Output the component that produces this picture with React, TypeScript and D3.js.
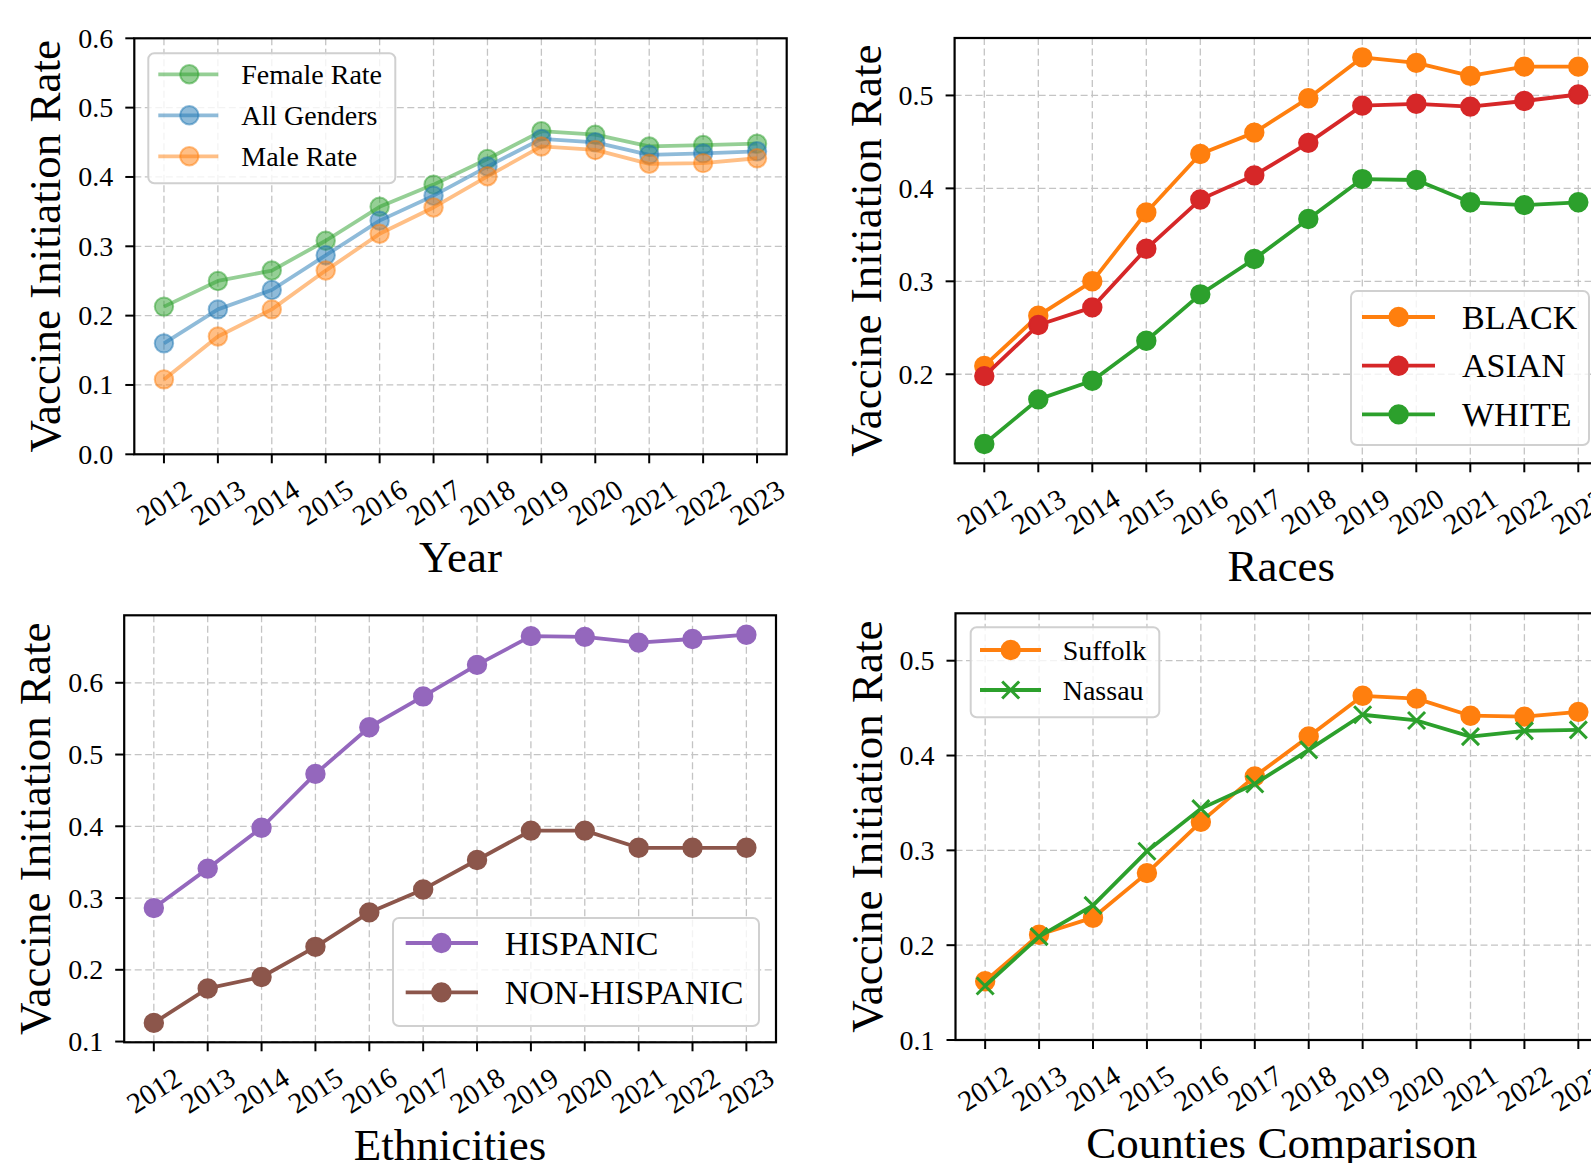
import React from "react";
import * as d3 from "d3";

// ---- data ----
const years = [2012, 2013, 2014, 2015, 2016, 2017, 2018, 2019, 2020, 2021, 2022, 2023];

// gender panel
const femaleRate = [0.213, 0.250, 0.265, 0.308, 0.357, 0.389, 0.426, 0.466, 0.461, 0.444, 0.446, 0.448];
const allGenders = [0.160, 0.209, 0.237, 0.287, 0.337, 0.373, 0.415, 0.455, 0.450, 0.432, 0.434, 0.437];
const maleRate = [0.108, 0.170, 0.209, 0.265, 0.318, 0.356, 0.401, 0.444, 0.439, 0.419, 0.420, 0.427];

// races panel
const blackRate = [0.209, 0.263, 0.300, 0.374, 0.437, 0.460, 0.497, 0.541, 0.535, 0.521, 0.531, 0.531];
const asianRate = [0.198, 0.253, 0.272, 0.335, 0.388, 0.414, 0.449, 0.489, 0.491, 0.488, 0.494, 0.501];
const whiteRate = [0.125, 0.173, 0.193, 0.236, 0.286, 0.324, 0.367, 0.410, 0.409, 0.385, 0.382, 0.385];

// ethnicities panel
const hispanicRate = [0.286, 0.341, 0.398, 0.473, 0.538, 0.581, 0.625, 0.665, 0.664, 0.656, 0.661, 0.667];
const nonHispanicRate = [0.126, 0.174, 0.190, 0.232, 0.280, 0.312, 0.353, 0.394, 0.394, 0.370, 0.370, 0.370];

// counties panel
const suffolkRate = [0.162, 0.211, 0.229, 0.276, 0.330, 0.378, 0.420, 0.463, 0.460, 0.442, 0.441, 0.446];
const nassauRate = [0.157, 0.209, 0.242, 0.299, 0.344, 0.370, 0.406, 0.443, 0.437, 0.420, 0.426, 0.427];

const yTicks = [0.0, 0.1, 0.2, 0.3, 0.4, 0.5, 0.6];

const FONT = "'Liberation Serif', 'Times New Roman', 'DejaVu Serif', serif";

type Series = { name: string; values: number[]; color: string; marker: "o" | "x"; alpha: number };
type Box = { left: number; right: number; top: number; bottom: number };
type LegendSpec = {
  anchor: "ul" | "lr";
  dx: number; dy: number; w: number; h: number;
  font: number; firstRow: number; rowGap: number;
  h0: number; h1: number; mk: number; tx: number;
};

// matplotlib-like 5% margins
const autoDomain = (arrs: number[][]): [number, number] => {
  const all = arrs.flat();
  const lo = d3.min(all)!, hi = d3.max(all)!;
  const pad = (hi - lo) * 0.05;
  return [lo - pad, hi + pad];
};

const Marker = ({ cx, cy, s }: { cx: number; cy: number; s: Series }) => {
  if (s.marker === "x") {
    const r = 8.5;
    return (
      <path
        d={`M${cx - r},${cy - r}L${cx + r},${cy + r}M${cx - r},${cy + r}L${cx + r},${cy - r}`}
        stroke={s.color} strokeWidth={3} strokeOpacity={s.alpha} fill="none"
      />
    );
  }
  return (
    <circle cx={cx} cy={cy} r={9.2} fill={s.color} fillOpacity={s.alpha}
      stroke={s.color} strokeOpacity={s.alpha} strokeWidth={2} />
  );
};

const Panel = ({ box, series, yDomain, xlabel, legend }:
  { box: Box; series: Series[]; yDomain: [number, number]; xlabel: string; legend: LegendSpec }) => {
  const x = d3.scaleLinear()
    .domain([years[0] - 0.55, years[years.length - 1] + 0.55])
    .range([box.left, box.right]);
  const y = d3.scaleLinear().domain(yDomain).range([box.bottom, box.top]);
  const ticks = yTicks.filter(t => t >= yDomain[0] - 1e-9 && t <= yDomain[1] + 1e-9);
  const line = d3.line<number>().x((_, i) => x(years[i])).y(d => y(d));

  // legend box position
  const lx = legend.anchor === "ul" ? box.left + legend.dx : box.right - legend.dx - legend.w;
  const ly = legend.anchor === "ul" ? box.top + legend.dy : box.bottom - legend.dy - legend.h;

  return (
    <g>
      {/* grid */}
      <g stroke="#c4c4c4" strokeWidth={1.3} strokeDasharray="7 3.5">
        {years.map(yr => (
          <line key={yr} x1={x(yr)} x2={x(yr)} y1={box.top} y2={box.bottom} />
        ))}
        {ticks.map(t => (
          <line key={t} x1={box.left} x2={box.right} y1={y(t)} y2={y(t)} />
        ))}
      </g>

      {/* series */}
      {series.map(s => (
        <g key={s.name}>
          <path d={line(s.values)!} fill="none" stroke={s.color} strokeWidth={3.8}
            strokeOpacity={s.alpha} strokeLinejoin="round" />
          {s.values.map((v, i) => (
            <Marker key={i} cx={x(years[i])} cy={y(v)} s={s} />
          ))}
        </g>
      ))}

      {/* spines */}
      <rect x={box.left} y={box.top} width={box.right - box.left} height={box.bottom - box.top}
        fill="none" stroke="#000" strokeWidth={2.2} />

      {/* y ticks */}
      {ticks.map(t => (
        <g key={t}>
          <line x1={box.left - 9} x2={box.left} y1={y(t)} y2={y(t)} stroke="#000" strokeWidth={2} />
          <text x={box.left - 21} y={y(t)} textAnchor="end" dominantBaseline="central"
            fontFamily={FONT} fontSize={28} fill="#000">{d3.format(".1f")(t)}</text>
        </g>
      ))}

      {/* x ticks */}
      {years.map(yr => (
        <g key={yr}>
          <line x1={x(yr)} x2={x(yr)} y1={box.bottom} y2={box.bottom + 9} stroke="#000" strokeWidth={2} />
          <text transform={`translate(${x(yr)},${box.bottom + 48}) rotate(-33)`}
            textAnchor="middle" dominantBaseline="central"
            fontFamily={FONT} fontSize={29} fill="#000">{yr}</text>
        </g>
      ))}

      {/* axis labels */}
      <text x={(box.left + box.right) / 2} y={box.bottom + 118} textAnchor="middle"
        fontFamily={FONT} fontSize={45} fill="#000">{xlabel}</text>
      <text transform={`translate(${box.left - 74},${(box.top + box.bottom) / 2}) rotate(-90)`}
        textAnchor="middle" fontFamily={FONT} fontSize={45} fill="#000">Vaccine Initiation Rate</text>

      {/* legend */}
      <g>
        <rect x={lx} y={ly} width={legend.w} height={legend.h} rx={6} ry={6}
          fill="#fff" fillOpacity={0.8} stroke="#d0d0d0" strokeWidth={2} />
        {series.map((s, i) => {
          const ry = ly + legend.firstRow + i * legend.rowGap;
          return (
            <g key={s.name}>
              <line x1={lx + legend.h0} x2={lx + legend.h1} y1={ry} y2={ry}
                stroke={s.color} strokeWidth={3.8} strokeOpacity={s.alpha} />
              <Marker cx={lx + legend.mk} cy={ry} s={s} />
              <text x={lx + legend.tx} y={ry} dominantBaseline="central"
                fontFamily={FONT} fontSize={legend.font} fill="#000">{s.name}</text>
            </g>
          );
        })}
      </g>
    </g>
  );
};

const genderSeries: Series[] = [
  { name: "Female Rate", values: femaleRate, color: "#2ca02c", marker: "o", alpha: 0.5 },
  { name: "All Genders", values: allGenders, color: "#1f77b4", marker: "o", alpha: 0.5 },
  { name: "Male Rate", values: maleRate, color: "#ff7f0e", marker: "o", alpha: 0.5 },
];
const raceSeries: Series[] = [
  { name: "BLACK", values: blackRate, color: "#ff7f0e", marker: "o", alpha: 1 },
  { name: "ASIAN", values: asianRate, color: "#d62728", marker: "o", alpha: 1 },
  { name: "WHITE", values: whiteRate, color: "#2ca02c", marker: "o", alpha: 1 },
];
const ethnicSeries: Series[] = [
  { name: "HISPANIC", values: hispanicRate, color: "#9467bd", marker: "o", alpha: 1 },
  { name: "NON-HISPANIC", values: nonHispanicRate, color: "#8c564b", marker: "o", alpha: 1 },
];
const countySeries: Series[] = [
  { name: "Suffolk", values: suffolkRate, color: "#ff7f0e", marker: "o", alpha: 1 },
  { name: "Nassau", values: nassauRate, color: "#2ca02c", marker: "x", alpha: 1 },
];

export default function App() {
  return (
    <div style={{ position: "absolute", left: 0, top: 0 }}>
      <svg width={1591} height={1163} style={{ display: "block", background: "#fff" }}>
        <rect width={1591} height={1163} fill="#fff" />
        <Panel
          box={{ left: 134.3, right: 786.7, top: 38.3, bottom: 454.3 }}
          series={genderSeries} yDomain={[0, 0.6]} xlabel="Year"
          legend={{ anchor: "ul", dx: 14, dy: 15, w: 247, h: 130, font: 28, firstRow: 21, rowGap: 41, h0: 10, h1: 70, mk: 41, tx: 93 }}
        />
        <Panel
          box={{ left: 954.6, right: 1608, top: 38, bottom: 463.3 }}
          series={raceSeries} yDomain={autoDomain([blackRate, asianRate, whiteRate])} xlabel="Races"
          legend={{ anchor: "lr", dx: 19, dy: 18.3, w: 238, h: 154, font: 34, firstRow: 26, rowGap: 48.7, h0: 11, h1: 84, mk: 47.6, tx: 111 }}
        />
        <Panel
          box={{ left: 124.2, right: 776, top: 615.3, bottom: 1042.3 }}
          series={ethnicSeries} yDomain={autoDomain([hispanicRate, nonHispanicRate])} xlabel="Ethnicities"
          legend={{ anchor: "lr", dx: 17, dy: 16.3, w: 366, h: 108, font: 34, firstRow: 25, rowGap: 49.4, h0: 12.7, h1: 85, mk: 48.4, tx: 111.7 }}
        />
        <Panel
          box={{ left: 955.5, right: 1608, top: 613.3, bottom: 1040 }}
          series={countySeries} yDomain={[0.1, 0.55]} xlabel="Counties Comparison"
          legend={{ anchor: "ul", dx: 15.2, dy: 14, w: 188.6, h: 90, font: 28, firstRow: 22.7, rowGap: 40, h0: 9.3, h1: 70.3, mk: 40, tx: 92 }}
        />
      </svg>
    </div>
  );
}
